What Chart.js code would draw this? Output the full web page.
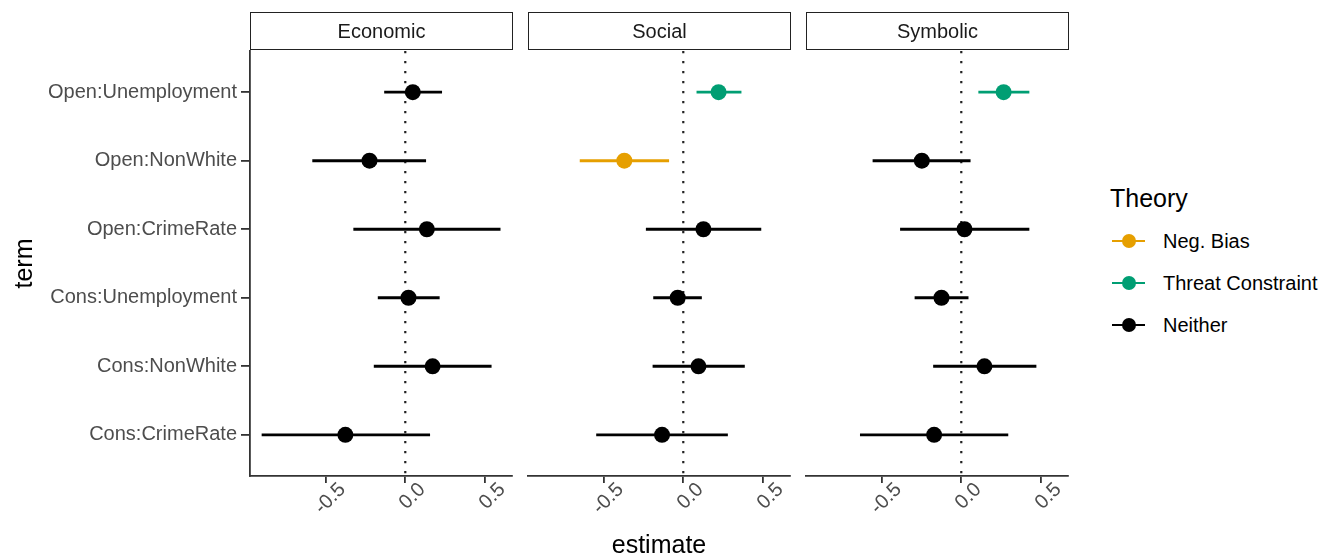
<!DOCTYPE html>
<html>
<head>
<meta charset="utf-8">
<script src="https://cdn.jsdelivr.net/npm/chart.js@4"></script>
<style>
  body { margin: 0; background: #fff; font-family: "Liberation Sans", Arial, sans-serif; }
  #page { position: relative; width: 1326px; height: 557px; overflow: hidden; }
  .panel { position: absolute; top: 0; height: 557px; }
  .strip {
    position: absolute; top: 12px; height: 38px; width: 263px; box-sizing: border-box;
    border: 1.6px solid #222; display: flex; align-items: center; justify-content: center;
    font-size: 20px; color: #1a1a1a;
  }
  #legend { position: absolute; left: 1110px; top: 183px; color: #000; }
  #legend .title { font-size: 25px; line-height: 30px; }
  .item { position: absolute; left: 0; height: 20px; width: 220px; font-size: 20px; }
  .item .line { position: absolute; left: 2px; top: 9px; width: 33px; height: 2px; }
  .item .dot { position: absolute; left: 11.5px; top: 3px; width: 14px; height: 14px; border-radius: 50%; }
  .item .lab { position: absolute; left: 53px; top: -2px; line-height: 24px; white-space: nowrap; }
</style>
</head>
<body>
<div id="page">
  <div class="panel" style="left:0;width:520px"><canvas id="c1"></canvas></div>
  <div class="panel" style="left:520px;width:278px"><canvas id="c2"></canvas></div>
  <div class="panel" style="left:798px;width:278px"><canvas id="c3"></canvas></div>
  <div class="strip" style="left:250px">Economic</div>
  <div class="strip" style="left:528px">Social</div>
  <div class="strip" style="left:806px">Symbolic</div>
  <div id="legend"></div>
</div>
<script>
  const terms = ['Open:Unemployment', 'Open:NonWhite', 'Open:CrimeRate',
                 'Cons:Unemployment', 'Cons:NonWhite', 'Cons:CrimeRate'];
  const xTicks = [-0.5, 0, 0.5];
  const theories = ['Neg. Bias', 'Threat Constraint', 'Neither'];
  const theoryColors = ['#E69F00', '#009E73', '#000000'];

  const economicEst  = [0.047, -0.224, 0.135, 0.020, 0.171, -0.375];
  const economicLow  = [-0.130, -0.580, -0.323, -0.170, -0.195, -0.897];
  const economicHigh = [0.228, 0.128, 0.594, 0.213, 0.538, 0.153];
  const economicTheory = ['Neither', 'Neither', 'Neither', 'Neither', 'Neither', 'Neither'];

  const socialEst  = [0.221, -0.369, 0.126, -0.035, 0.095, -0.133];
  const socialLow  = [0.085, -0.646, -0.232, -0.186, -0.190, -0.543];
  const socialHigh = [0.362, -0.091, 0.486, 0.114, 0.383, 0.277];
  const socialTheory = ['Threat Constraint', 'Neg. Bias', 'Neither', 'Neither', 'Neither', 'Neither'];

  const symbolicEst  = [0.265, -0.247, 0.020, -0.124, 0.145, -0.170];
  const symbolicLow  = [0.109, -0.553, -0.381, -0.290, -0.174, -0.632];
  const symbolicHigh = [0.424, 0.056, 0.424, 0.043, 0.468, 0.292];
  const symbolicTheory = ['Threat Constraint', 'Neither', 'Neither', 'Neither', 'Neither', 'Neither'];

  Chart.defaults.font.family = '"Liberation Sans", Arial, sans-serif';
  Chart.defaults.animation = false;

  function colourOf(t) {
    return theoryColors[theories.indexOf(t)];
  }

  // dotted reference line at zero
  const zeroLine = {
    id: 'zeroLine',
    beforeDatasetsDraw(chart) {
      const {ctx, chartArea, scales} = chart;
      const x = scales.x.getPixelForValue(0);
      ctx.save();
      ctx.strokeStyle = '#222';
      ctx.lineWidth = 2.2;
      ctx.setLineDash([2.2, 7.8]);
      ctx.beginPath();
      ctx.moveTo(x, chartArea.top);
      ctx.lineTo(x, chartArea.bottom);
      ctx.stroke();
      ctx.restore();
    }
  };

  function makePanel(id, est, low, high, theory, first, showXTitle) {
    const colors = theory.map(colourOf);
    new Chart(document.getElementById(id), {
      type: 'scatter',
      data: {
        datasets: [
          {
            type: 'scatter',
            data: est.map((v, i) => ({x: v, y: i + 1})),
            pointRadius: 8,
            pointBackgroundColor: colors,
            pointBorderColor: colors,
            pointBorderWidth: 0,
            order: 0
          },
          {
            type: 'bar',
            indexAxis: 'y',
            data: low.map((v, i) => ({x: [v, high[i]], y: i + 1})),
            backgroundColor: colors,
            barThickness: 2.3,
            order: 1
          }
        ]
      },
      options: {
        responsive: true,
        maintainAspectRatio: false,
        layout: { padding: { left: first ? 0 : 8, right: 7, top: 51, bottom: 0 } },
        plugins: { legend: { display: false }, tooltip: { enabled: false } },
        scales: {
          x: {
            type: 'linear',
            offset: false,
            min: -0.972,
            max: 0.668,
            afterBuildTicks: s => { s.ticks = xTicks.map(v => ({value: v})); },
            afterFit: s => { s.height = 81; },
            ticks: {
              autoSkip: false, minRotation: 45, maxRotation: 45,
              color: '#4d4d4d', font: { size: 20 }, padding: -5, labelOffset: 17,
              callback: v => v.toFixed(1)
            },
            grid: { offset: false, drawOnChartArea: false, drawTicks: true, tickLength: 7, color: '#333', lineWidth: 1.8 },
            border: { display: true, color: '#333', width: 1.8 },
            title: {
              display: showXTitle, text: 'estimate', color: '#000',
              font: { size: 25, lineHeight: 0.9 }, padding: 0
            }
          },
          y: {
            type: 'linear',
            display: first,
            offset: false,
            reverse: true,
            min: 0.4,
            max: 6.6,
            afterBuildTicks: s => { s.ticks = terms.map((t, i) => ({value: i + 1})); },
            afterFit: s => { s.width = first ? 250 : 0; },
            ticks: {
              autoSkip: false, color: '#4d4d4d', font: { size: 20 }, padding: 4,
              callback: v => terms[v - 1]
            },
            grid: { offset: false, drawOnChartArea: false, drawTicks: true, tickLength: 9, color: '#333', lineWidth: 1.8 },
            border: { display: true, color: '#333', width: 1.8 },
            title: {
              display: first, text: 'term', color: '#000',
              font: { size: 25 }, padding: { top: 10, bottom: 0 }
            }
          }
        }
      },
      plugins: [zeroLine]
    });
  }

  makePanel('c1', economicEst, economicLow, economicHigh, economicTheory, true, false);
  makePanel('c2', socialEst, socialLow, socialHigh, socialTheory, false, true);
  makePanel('c3', symbolicEst, symbolicLow, symbolicHigh, symbolicTheory, false, false);

  // legend
  const legend = document.getElementById('legend');
  legend.innerHTML = '<div class="title">Theory</div>';
  const rowTops = [48, 90, 132];
  theories.forEach((t, i) => {
    const c = theoryColors[i];
    const item = document.createElement('div');
    item.className = 'item';
    item.style.top = rowTops[i] + 'px';
    item.innerHTML = '<div class="line" style="background:' + c + '"></div>' +
      '<div class="dot" style="background:' + c + '"></div>' +
      '<div class="lab">' + t + '</div>';
    legend.appendChild(item);
  });
</script>
</body>
</html>
